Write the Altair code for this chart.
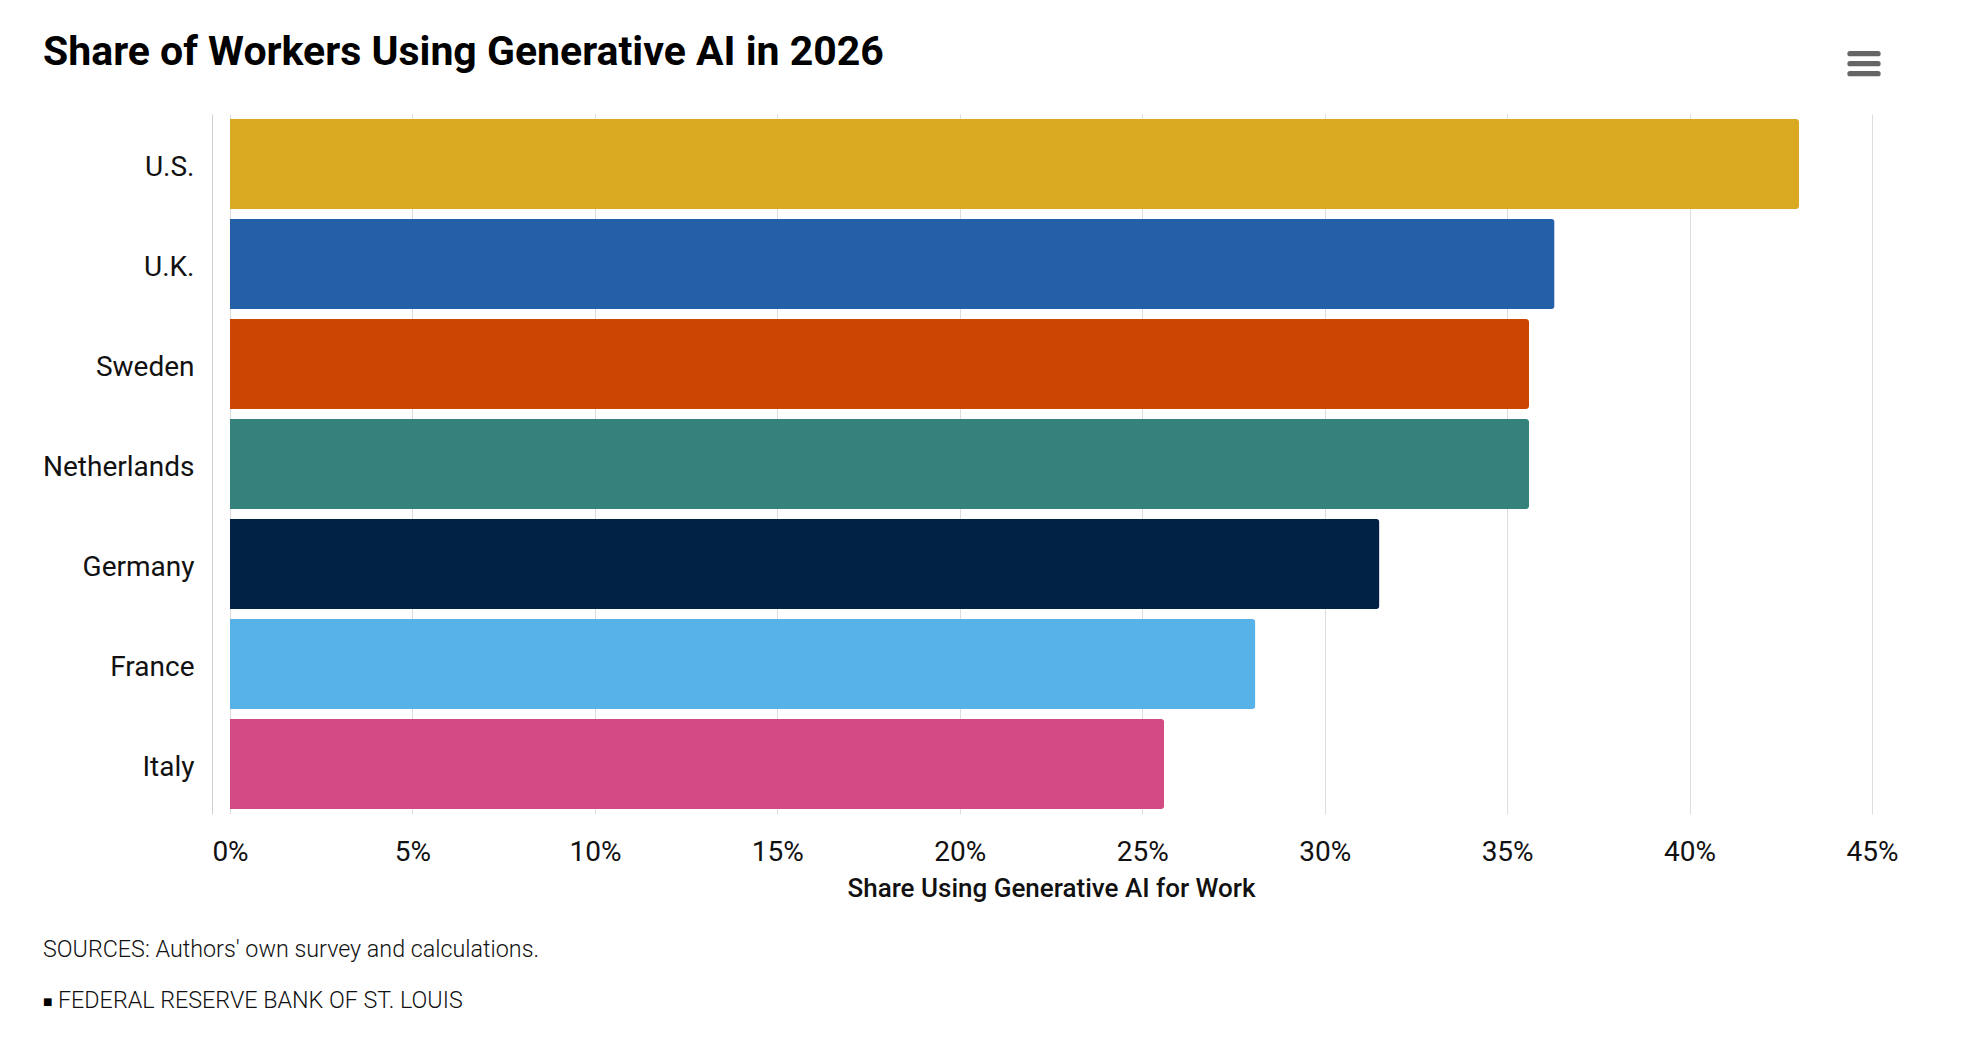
import altair as alt
import pandas as pd

countries = ["U.S.", "U.K.", "Sweden", "Netherlands", "Germany", "France", "Italy"]
shares = [43.0, 36.3, 35.6, 35.6, 31.5, 28.1, 25.6]
colors = ["#DAA922", "#245FA8", "#CD4502", "#35817B", "#012245", "#57B3E7", "#D34A84"]
x_ticks = [0, 5, 10, 15, 20, 25, 30, 35, 40, 45]

title_text = "Share of Workers Using Generative AI in 2026"
x_title = "Share Using Generative AI for Work"
source_text = "SOURCES: Authors' own survey and calculations."
bullet_text = "■"
credit_text = "FEDERAL RESERVE BANK OF ST. LOUIS"

df = pd.DataFrame({"country": countries, "share": shares})
one = pd.DataFrame({"i": [0]})

FONT = "Roboto"

bars = alt.Chart(df).mark_bar(cornerRadiusEnd=3).encode(
    x=alt.X(
        "share:Q",
        scale=alt.Scale(domain=[0, 45], nice=False, zero=True),
        axis=alt.Axis(
            values=x_ticks,
            labelExpr="datum.value + '%'",
            labelFlush=False,
            title=x_title,
            grid=True,
            gridColor="#dddddd",
            gridWidth=1,
            domain=False,
            ticks=False,
            tickSize=0,
            labelPadding=24,
            labelFontSize=28,
            labelFont=FONT,
            labelColor="#111111",
            titleFont=FONT,
            titleFontSize=26,
            titleFontWeight=500,
            titleColor="#111111",
            titlePadding=9,
        ),
    ),
    y=alt.Y(
        "country:N",
        sort=countries,
        scale=alt.Scale(paddingInner=0.1, paddingOuter=0.05),
        axis=alt.Axis(
            title=None,
            offset=18,
            domain=True,
            domainColor="#d0d0d0",
            domainWidth=1,
            ticks=False,
            tickSize=0,
            grid=False,
            labelPadding=18,
            labelOffset=4,
            labelFont=FONT,
            labelFontSize=28,
            labelColor="#111111",
        ),
    ),
    color=alt.Color("country:N", scale=alt.Scale(domain=countries, range=colors), legend=None),
)

title = alt.Chart(one).mark_text(
    text=title_text, align="left", baseline="alphabetic", font=FONT, fontSize=41,
    fontWeight="bold", color="#000000"
).encode(x=alt.value(-187), y=alt.value(-49))

source = alt.Chart(one).mark_text(
    text=source_text, align="left", baseline="middle", font=FONT, fontSize=23.3,
    fontWeight=300, color="#111111"
).encode(x=alt.value(-187), y=alt.value(836))

bullet = alt.Chart(one).mark_text(
    text=bullet_text, align="left", baseline="middle", font="DejaVu Sans", fontSize=10,
    color="#000000"
).encode(x=alt.value(-187), y=alt.value(888))

credit = alt.Chart(one).mark_text(
    text=credit_text, align="left", baseline="middle", font=FONT, fontSize=23.3,
    fontWeight=300, color="#111111"
).encode(x=alt.value(-172), y=alt.value(887))

menu_lines = []
for yy in [-60.3, -50.3, -40.3]:
    menu_lines.append(
        alt.Chart(one).mark_rule(color="#666666", strokeWidth=5.3, strokeCap="round").encode(
            x=alt.value(1620), x2=alt.value(1648), y=alt.value(yy)
        )
    )

chart = alt.layer(bars, title, source, bullet, credit, *menu_lines).properties(
    width=1642,
    height=700,
    background="white",
    autosize=alt.AutoSizeParams(type="none"),
    padding={"left": 222, "top": 106, "right": 91, "bottom": 220},
).configure_view(stroke="transparent", strokeWidth=0)

chart.save("out.html", embed_options={"renderer": "svg", "actions": False})
